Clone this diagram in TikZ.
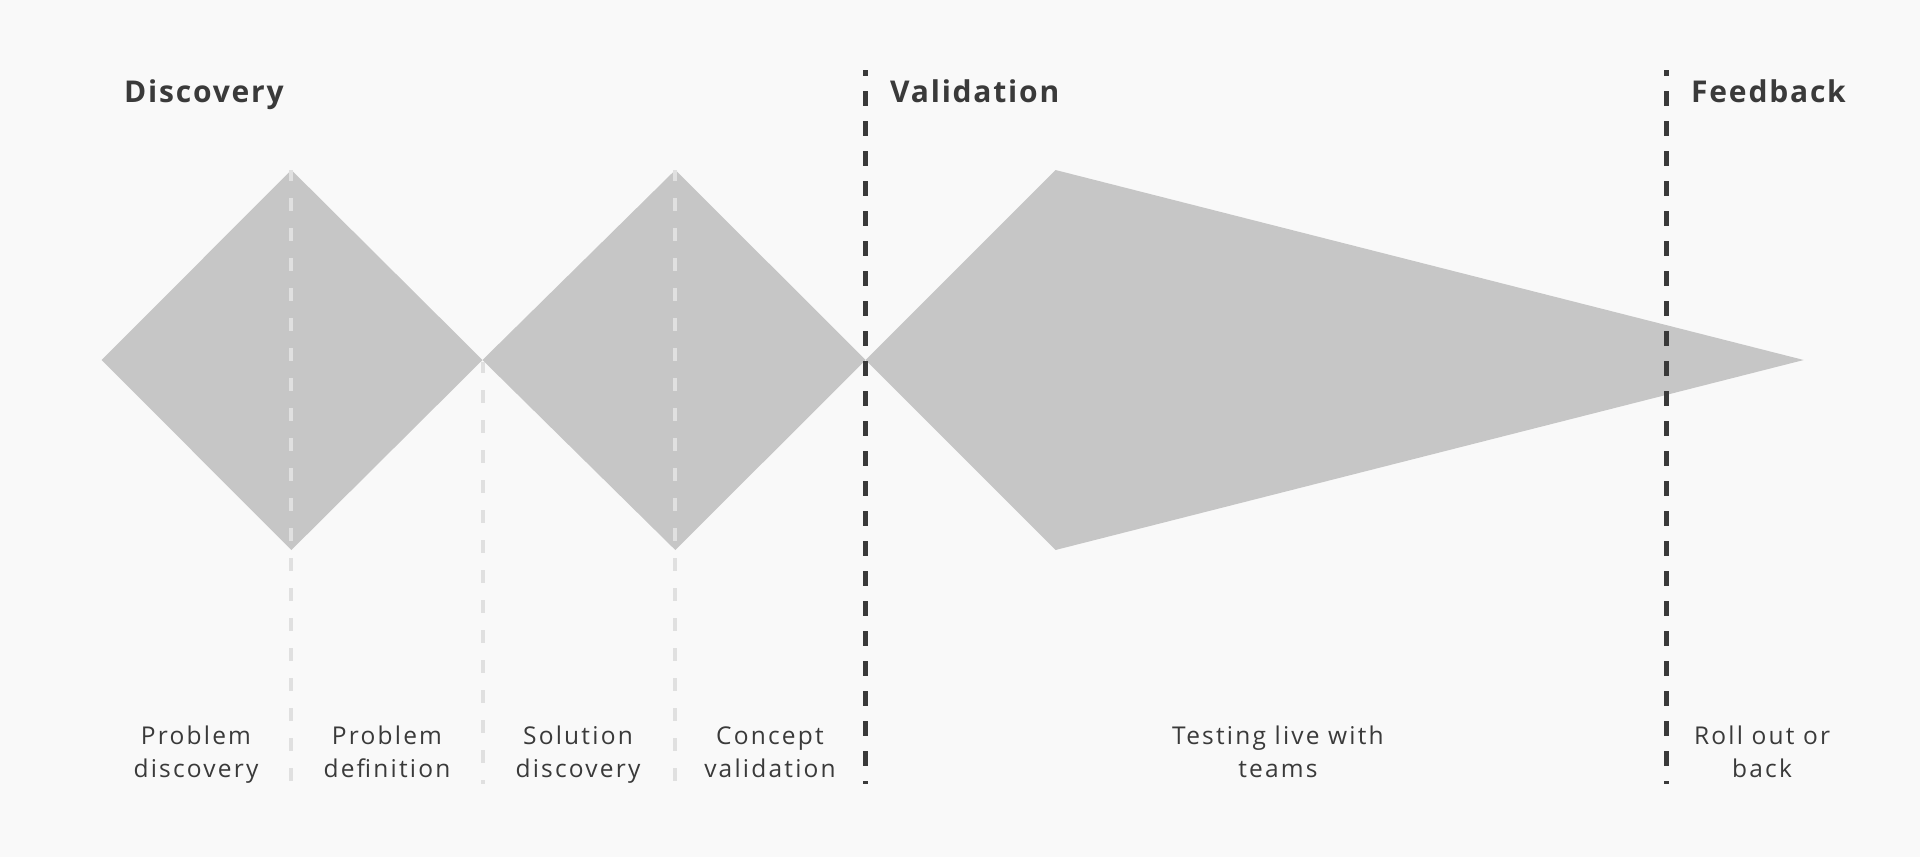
\documentclass[tikz,border=0pt]{standalone}
\usepackage{fontspec}
\setmainfont{Open Sans}
\newfontfamily\headfont[LetterSpace=6]{Open Sans}
\newfontfamily\stepfont[LetterSpace=9]{Open Sans}
\usetikzlibrary{positioning}
\definecolor{pagebg}{HTML}{F9F9F9}
\definecolor{shapegray}{HTML}{C6C6C6}
\definecolor{inkdark}{HTML}{3A3A3A}
\definecolor{dashlight}{HTML}{E0E0E0}

\tikzset{
  phase/.style={font=\headfont\bfseries\fontsize{30}{36}\selectfont, text=inkdark, anchor=base west, inner sep=0pt},
  stage/.style={font=\stepfont\fontsize{24.5}{33}\selectfont, text=inkdark, align=center, anchor=base, inner sep=0pt},
  divider/.style={draw=inkdark, line width=5pt, dash pattern=on 15pt off 15pt, dash phase=9pt},
  subdivider/.style={draw=dashlight, line width=4pt, dash pattern=on 13pt off 17pt, dash phase=2pt},
}

\begin{document}
\begin{tikzpicture}[x=1pt, y=-1pt]
  % Canvas
  \fill[pagebg] (0,0) rectangle (1920,857);
  \useasboundingbox (0,0) rectangle (1920,857);

  % Shapes
  \fill[shapegray] (101.6,360) -- (291.4,170) -- (482.5,360) -- (291.4,550) -- cycle;
  \fill[shapegray] (482.5,360) -- (675.3,170) -- (865.7,360) -- (675.3,550) -- cycle;
  \fill[shapegray] (865.7,360) -- (1055.5,170) -- (1803.7,360) -- (1055.5,550) -- cycle;

  % Sub-step lines
  \draw[subdivider] (291.4,170) -- (291.4,784);
  \draw[subdivider] (482.5,362) -- (482.5,784);
  \draw[subdivider] (675.3,170) -- (675.3,784);

  % Phase lines
  \draw[divider] (865.7,70) -- (865.7,784);
  \draw[divider] (1666.5,70) -- (1666.5,784);

  % Phases
  \node[phase] (discovery) at (124,102) {Discovery};
  \node[phase] (validation) at (890,102) {Validation};
  \node[phase] (feedback) at (1691,102) {Feedback};

  % Steps (base = last line)
  \node[stage] (probdisc) at (196,777) {Problem\\discovery};
  \node[stage] (probdef) at (387,777) {Problem\\definition};
  \node[stage] (soldisc) at (578,777) {Solution\\discovery};
  \node[stage] (conceptval) at (770,777) {Concept\\validation};
  \node[stage] (testing) at (1278,777) {Testing live with\\teams};
  \node[stage] (rollout) at (1762,777) {Roll out or\\back};
\end{tikzpicture}
\end{document}
